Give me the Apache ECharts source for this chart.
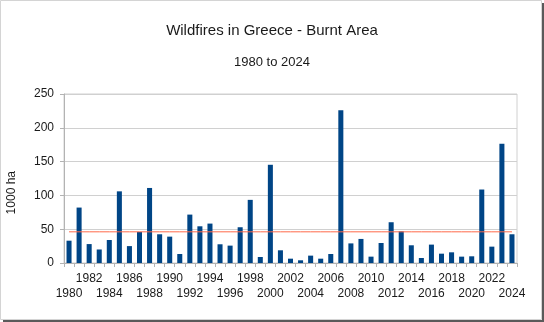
<!DOCTYPE html>
<html>
<head>
<meta charset="utf-8">
<script src="https://cdn.jsdelivr.net/npm/echarts@6/dist/echarts.min.js"></script>
<style>
  html, body { margin: 0; padding: 0; background: #fff; }
  #chart { width: 544px; height: 322px; }
</style>
</head>
<body>
<div id="chart"></div>
<script>
// Burnt area per year, in thousands of hectares
const years = [
  '1980','1981','1982','1983','1984','1985','1986','1987','1988','1989',
  '1990','1991','1992','1993','1994','1995','1996','1997','1998','1999',
  '2000','2001','2002','2003','2004','2005','2006','2007','2008','2009',
  '2010','2011','2012','2013','2014','2015','2016','2017','2018','2019',
  '2020','2021','2022','2023','2024'
];
const burntArea = [
  33, 82, 28, 20, 34, 106, 25, 46, 111, 42.5,
  39, 13.3, 71.6, 54.3, 58.3, 27.7, 25.7, 52.9, 93.4, 8.9,
  145.3, 18.8, 6.4, 4, 10.9, 6.4, 13.3, 225.8, 29, 35.6,
  9.4, 29.6, 60.3, 46.9, 26.2, 7.4, 27.2, 13.8, 15.8, 9.4,
  9.9, 108.7, 24.2, 176.4, 42.5
];
const yMin = 0, yMax = 250, yStep = 50;

// long-term average drawn as a flat reference line
const mean = burntArea.reduce((a, b) => a + b, 0) / burntArea.length;
const meanLine = years.map(() => mean);

const font = 'Liberation Sans, Arial, sans-serif';
const chart = echarts.init(document.getElementById('chart'), null, { renderer: 'canvas' });

chart.setOption({
  backgroundColor: '#fff',
  animation: false,
  title: [
    { text: 'Wildfires in Greece - Burnt Area', left: 'center', top: 18,
      textStyle: { fontFamily: font, fontSize: 15, fontWeight: 'normal', color: '#1a1a1a' } },
    { text: '1980 to 2024', left: 'center', top: 51,
      textStyle: { fontFamily: font, fontSize: 13, fontWeight: 'normal', color: '#1a1a1a' } }
  ],
  grid: { left: 64, right: 27, top: 94, bottom: 59, show: true, borderColor: '#d0d0d0', borderWidth: 1 },
  xAxis: {
    type: 'category',
    data: years,
    boundaryGap: true,
    axisLine: { lineStyle: { color: '#b3b3b3' } },
    axisTick: { show: true, interval: 0, length: 4, lineStyle: { color: '#b3b3b3' } },
    axisLabel: {
      interval: 0, margin: 8, fontFamily: font, fontSize: 12, color: '#1a1a1a', lineHeight: 15,
      formatter: (v) => {
        const y = +v;
        if (y % 4 === 0) return '\n' + v;
        if (y % 4 === 2) return v;
        return '';
      }
    },
    splitLine: { show: false }
  },
  yAxis: {
    type: 'value', min: yMin, max: yMax, interval: yStep,
    axisLine: { show: true, lineStyle: { color: '#b3b3b3' } },
    axisTick: { show: true, length: 4, lineStyle: { color: '#b3b3b3' } },
    axisLabel: { margin: 10, fontFamily: font, fontSize: 12, color: '#1a1a1a' },
    splitLine: { lineStyle: { color: '#d0d0d0' } }
  },
  series: [
    {
      type: 'bar', data: burntArea, barWidth: '50%',
      itemStyle: { color: '#004586' }, z: 2
    },
    {
      type: 'line', data: meanLine, showSymbol: false, symbol: 'none', silent: true,
      lineStyle: { color: '#ff6a4a', width: 1 }, z: 3
    }
  ],
  graphic: [
    { type: 'text', left: 6, top: 171, rotation: Math.PI / 2, originX: 0, originY: 0,
      style: { text: '1000 ha', fontFamily: font, fontSize: 12, fill: '#1a1a1a' } },
    // frame with a drop shadow on the right and bottom edges
    { type: 'rect', shape: { x: 0.5, y: 0.5, width: 541, height: 319 },
      style: { fill: 'none', stroke: '#d4d4d4', lineWidth: 1 }, z: 10 },
    { type: 'rect', shape: { x: 542, y: 3, width: 2, height: 319 },
      style: { fill: '#5a5a5a' }, z: 10 },
    { type: 'rect', shape: { x: 3, y: 320, width: 541, height: 2 },
      style: { fill: '#5a5a5a' }, z: 10 }
  ]
});
</script>
</body>
</html>
